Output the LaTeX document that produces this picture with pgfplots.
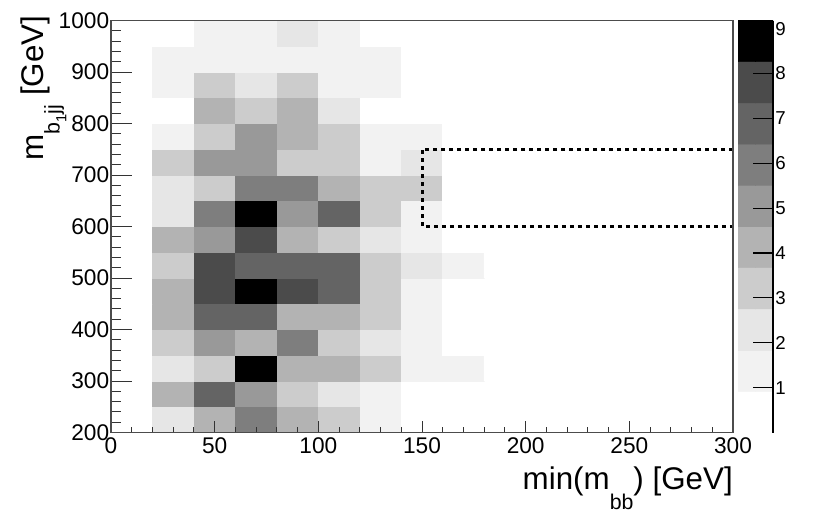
\documentclass[border=0pt]{standalone}
\usepackage{pgfplots}
\pgfplotsset{compat=1.18}
\usepackage{fontspec}
\setmainfont{Liberation Sans}

\pgfplotsset{
  colormap={rootgray}{rgb255=(255,255,255) rgb255=(242,242,242) rgb255=(230,230,230)
    rgb255=(204,204,204) rgb255=(179,179,179) rgb255=(153,153,153) rgb255=(126,126,126)
    rgb255=(100,100,100) rgb255=(75,75,75) rgb255=(0,0,0)},
}
\newcommand{\sub}[2]{\raisebox{-#1}{\fontsize{16}{16}\selectfont #2}}

% counts per cell, x bins of 20 GeV (centres 10..190), y bins of 50 GeV
\pgfplotstableread[row sep=\\]{
x y c\\
10 225 0\\ 30 225 2\\ 50 225 4\\ 70 225 6\\ 90 225 4\\ 110 225 3\\ 130 225 1\\ 150 225 0\\ 170 225 0\\ 190 225 0\\
10 275 0\\ 30 275 4\\ 50 275 7\\ 70 275 5\\ 90 275 3\\ 110 275 2\\ 130 275 1\\ 150 275 0\\ 170 275 0\\ 190 275 0\\
10 325 0\\ 30 325 2\\ 50 325 3\\ 70 325 9\\ 90 325 4\\ 110 325 4\\ 130 325 3\\ 150 325 1\\ 170 325 1\\ 190 325 0\\
10 375 0\\ 30 375 3\\ 50 375 5\\ 70 375 4\\ 90 375 6\\ 110 375 3\\ 130 375 2\\ 150 375 1\\ 170 375 0\\ 190 375 0\\
10 425 0\\ 30 425 4\\ 50 425 7\\ 70 425 7\\ 90 425 4\\ 110 425 4\\ 130 425 3\\ 150 425 1\\ 170 425 0\\ 190 425 0\\
10 475 0\\ 30 475 4\\ 50 475 8\\ 70 475 9\\ 90 475 8\\ 110 475 7\\ 130 475 3\\ 150 475 1\\ 170 475 0\\ 190 475 0\\
10 525 0\\ 30 525 3\\ 50 525 8\\ 70 525 7\\ 90 525 7\\ 110 525 7\\ 130 525 3\\ 150 525 2\\ 170 525 1\\ 190 525 0\\
10 575 0\\ 30 575 4\\ 50 575 5\\ 70 575 8\\ 90 575 4\\ 110 575 3\\ 130 575 2\\ 150 575 1\\ 170 575 0\\ 190 575 0\\
10 625 0\\ 30 625 2\\ 50 625 6\\ 70 625 9\\ 90 625 5\\ 110 625 7\\ 130 625 3\\ 150 625 1\\ 170 625 0\\ 190 625 0\\
10 675 0\\ 30 675 2\\ 50 675 3\\ 70 675 6\\ 90 675 6\\ 110 675 4\\ 130 675 3\\ 150 675 3\\ 170 675 0\\ 190 675 0\\
10 725 0\\ 30 725 3\\ 50 725 5\\ 70 725 5\\ 90 725 3\\ 110 725 3\\ 130 725 1\\ 150 725 2\\ 170 725 0\\ 190 725 0\\
10 775 0\\ 30 775 1\\ 50 775 3\\ 70 775 5\\ 90 775 4\\ 110 775 3\\ 130 775 1\\ 150 775 1\\ 170 775 0\\ 190 775 0\\
10 825 0\\ 30 825 0\\ 50 825 4\\ 70 825 3\\ 90 825 4\\ 110 825 2\\ 130 825 0\\ 150 825 0\\ 170 825 0\\ 190 825 0\\
10 875 0\\ 30 875 1\\ 50 875 3\\ 70 875 2\\ 90 875 3\\ 110 875 1\\ 130 875 1\\ 150 875 0\\ 170 875 0\\ 190 875 0\\
10 925 0\\ 30 925 1\\ 50 925 1\\ 70 925 1\\ 90 925 1\\ 110 925 1\\ 130 925 1\\ 150 925 0\\ 170 925 0\\ 190 925 0\\
10 975 0\\ 30 975 0\\ 50 975 1\\ 70 975 1\\ 90 975 2\\ 110 975 1\\ 130 975 0\\ 150 975 0\\ 170 975 0\\ 190 975 0\\
}\hist

% palette bands of the colour bar
\pgfplotstableread[row sep=\\]{
x y c\\
0 0.459 0\\ 1 0.459 0\\
0 1.377 1\\ 1 1.377 1\\
0 2.295 2\\ 1 2.295 2\\
0 3.213 3\\ 1 3.213 3\\
0 4.131 4\\ 1 4.131 4\\
0 5.049 5\\ 1 5.049 5\\
0 5.967 6\\ 1 5.967 6\\
0 6.885 7\\ 1 6.885 7\\
0 7.803 8\\ 1 7.803 8\\
0 8.721 9\\ 1 8.721 9\\
}\palette

\begin{document}
\begin{tikzpicture}
\useasboundingbox (-83.25pt,-64.875pt) rectangle (539.25pt,324.375pt);
\begin{axis}[at={(0,0)}, anchor=south west, scale only axis, width=466.5pt, height=309pt,
  xmin=0, xmax=300, ymin=200, ymax=1000,
  colormap name=rootgray, point meta min=0, point meta max=9,
  xtick={0,50,...,300}, minor x tick num=4, ytick=\empty, xtick pos=bottom,
  major tick length=9pt, minor tick length=4.5pt,
  tick style={black!80, line width=0.7pt}, axis line style={black!70, line width=0.8pt},
  xticklabel style={font=\fontsize{17}{17}\selectfont},
  /pgf/number format/assume math mode=true, /pgf/number format/1000 sep={},
  xlabel={min(m\sub{15pt}{bb}) [GeV]},
  xlabel style={at={(axis description cs:1,-0.138)}, anchor=base east, inner sep=0pt,
    font=\fontsize{23.5}{23.5}\selectfont},
  axis on top]
\addplot[matrix plot*, mesh/cols=10, point meta=explicit] table[x=x, y=y, meta=c] {\hist};
\addplot[black, line width=2.25pt, dash pattern=on 3pt off 3pt]
  coordinates {(300,750) (150,750) (150,600) (300,600)};
\end{axis}
\begin{axis}[at={(0,0)}, anchor=south west, scale only axis, width=466.5pt, height=309pt,
  xmin=0, xmax=300, ymin=200, ymax=1000,
  xtick=\empty, ytick={200,300,...,1000}, minor y tick num=4, ytick pos=left,
  major tick length=15.75pt, minor tick length=7.5pt,
  tick style={black!80, line width=0.7pt}, axis line style={black!70, line width=0.8pt},
  yticklabel style={font=\fontsize{17}{17}\selectfont, inner sep=1.2pt},
  /pgf/number format/assume math mode=true, /pgf/number format/1000 sep={},
  ylabel={m\sub{12.5pt}{b\raisebox{-5pt}{\fontsize{11}{11}\selectfont 1}jj} [GeV]},
  ylabel style={at={(axis description cs:-0.1093,1.012)}, anchor=base east, inner sep=0pt,
    font=\fontsize{23.5}{23.5}\selectfont}]
\end{axis}
\begin{axis}[at={(470.25pt,0)}, anchor=south west, scale only axis, width=26.25pt, height=309pt,
  xmin=-0.5, xmax=1.5, ymin=0, ymax=9.18,
  colormap name=rootgray, point meta min=0, point meta max=9,
  axis x line=none, axis y line=right, axis line style={-, black, line width=0.8pt},
  ytick={1,...,9}, tick align=inside, major tick length=15pt,
  tick style={black, line width=0.8pt},
  yticklabel style={font=\fontsize{14}{14}\selectfont, inner sep=1.5pt},
  /pgf/number format/assume math mode=true,
  axis on top]
\addplot[matrix plot*, mesh/cols=2, point meta=explicit] table[x=x, y=y, meta=c] {\palette};
\end{axis}
\end{tikzpicture}
\end{document}
